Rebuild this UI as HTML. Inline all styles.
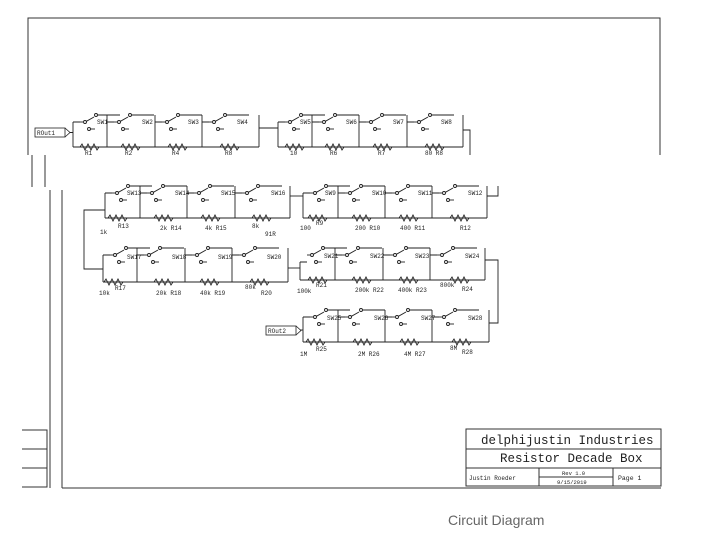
<!DOCTYPE html>
<html><head><meta charset="utf-8"><style>
html,body{margin:0;padding:0;background:#fff;width:702px;height:539px;overflow:hidden}
svg{display:block}
text{font-family:"Liberation Mono",monospace;fill:#222}
</style></head><body>
<svg width="702" height="539" viewBox="0 0 702 539" xmlns="http://www.w3.org/2000/svg">
<defs>
<g id="sw" fill="none" stroke="#222" stroke-width="0.9">
<path d="M0 0H3"/><circle cx="5" cy="0" r="1.5"/><path d="M6.4 -0.7L14 -5"/>
<circle cx="16" cy="-7" r="1.5"/><path d="M17.5 -7H40"/>
<circle cx="9" cy="7" r="1.5"/><path d="M10.5 7H15"/>
</g>
<g id="res" fill="none" stroke="#222" stroke-width="0.9">
<path d="M-10 0L-8 -3L-5 3L-2 -3L1 3L4 -3L7 3L9 0"/>
</g>
</defs>
<g stroke="#333" stroke-width="1" fill="none">
<path d="M28 155V18H660V155"/>
</g>
<!-- Row 1 -->
<g stroke="#222" stroke-width="0.9" fill="none">
<path d="M73 122V147M107 115V147M155 115V147M202 115V147M259 115V147"/>
<path d="M73 122H80M107 122H114M155 122H162M202 122H209"/>
<path d="M73 147H259"/>
<path d="M259 128H278M278 122V147M312 115V147M359 115V147M407 115V147M463 115V147"/>
<path d="M278 122H285M312 122H319M359 122H366M407 122H414M278 147H463"/>
<path d="M463 130H470V155"/>
</g>
<g clip-path="none">
<use href="#sw" x="80" y="122"/><use href="#sw" x="114" y="122"/><use href="#sw" x="162" y="122"/><use href="#sw" x="209" y="122"/>
<use href="#sw" x="285" y="122"/><use href="#sw" x="319" y="122"/><use href="#sw" x="366" y="122"/><use href="#sw" x="414" y="122"/>
</g>
<use href="#res" x="90" y="147"/><use href="#res" x="131" y="147"/><use href="#res" x="178" y="147"/><use href="#res" x="230" y="147"/>
<use href="#res" x="295" y="147"/><use href="#res" x="335" y="147"/><use href="#res" x="383" y="147"/><use href="#res" x="435" y="147"/>
<rect x="35" y="128" width="30" height="9" fill="#fff" stroke="#222" stroke-width="0.8"/><path d="M65 128L70 132.5L65 137" fill="none" stroke="#222" stroke-width="0.8"/><path d="M70 132.5H73" stroke="#222"/>
<g font-size="6"><text x="37" y="135">ROut1</text>
<text x="97" y="124">SW1</text><text x="142" y="124">SW2</text><text x="188" y="124">SW3</text><text x="237" y="124">SW4</text>
<text x="300" y="124">SW5</text><text x="346" y="124">SW6</text><text x="393" y="124">SW7</text><text x="441" y="124">SW8</text>
<text x="85" y="155">R1</text><text x="125" y="155">R2</text><text x="172" y="155">R4</text><text x="225" y="155">R8</text>
<text x="290" y="155">10</text><text x="330" y="155">R6</text><text x="378" y="155">R7</text><text x="425" y="155">80 R8</text></g>

<rect x="21" y="155" width="640" height="340" fill="#fff"/>
<g stroke="#333" stroke-width="1" fill="none">
<path d="M32 155V187M45 155V187M50 190V488M62 190V488M62 488H661"/>
<path d="M22 430H47V487H22M22 449H47M22 468H47"/>
<rect x="466" y="429" width="195" height="57"/>
<path d="M466 449H661M466 468H661M539 468V486M613 468V486M539 477H613"/>
</g>
<text x="481" y="444" font-size="12.5">delphijustin Industries</text>
<text x="500" y="462" font-size="12.5">Resistor Decade Box</text>
<text x="469" y="480" font-size="6">Justin Roeder</text>
<text x="562" y="475" font-size="5.5">Rev 1.0</text>
<text x="557" y="484" font-size="5.5">9/15/2019</text>
<text x="618" y="480" font-size="6.5">Page 1</text>
<text x="448" y="525" font-size="14" style="font-family:'Liberation Sans',sans-serif;fill:#666">Circuit Diagram</text>

<!-- Row 2 -->
<g stroke="#222" stroke-width="0.9" fill="none">
<path d="M105 193V218M140 186V218M187 186V218M235 186V218M290 186V218M105 218H290"/>
<path d="M105 193H112M140 193H147M187 193H194M235 193H242"/>
<path d="M290 196H303"/>
<path d="M303 193V218M338 186V218M385 186V218M432 186V218M487 186V218M303 218H487"/>
<path d="M303 193H310M338 193H345M385 193H392M432 193H439"/>
<path d="M487 196H498V186"/>
<path d="M105 210H84V269H103"/>
</g>
<use href="#sw" x="112" y="193"/><use href="#sw" x="147" y="193"/><use href="#sw" x="194" y="193"/><use href="#sw" x="242" y="193"/>
<use href="#sw" x="310" y="193"/><use href="#sw" x="345" y="193"/><use href="#sw" x="392" y="193"/><use href="#sw" x="439" y="193"/>
<use href="#res" x="118" y="218"/><use href="#res" x="164" y="218"/><use href="#res" x="211" y="218"/><use href="#res" x="262" y="218"/>
<use href="#res" x="318" y="218"/><use href="#res" x="362" y="218"/><use href="#res" x="409" y="218"/><use href="#res" x="460" y="218"/>
<g font-size="6"><text x="127" y="195">SW13</text><text x="175" y="195">SW14</text><text x="221" y="195">SW15</text><text x="271" y="195">SW16</text>
<text x="325" y="195">SW9</text><text x="372" y="195">SW10</text><text x="418" y="195">SW11</text><text x="468" y="195">SW12</text>
<text x="100" y="234">1k</text><text x="118" y="228">R13</text><text x="160" y="230">2k R14</text><text x="205" y="230">4k R15</text><text x="252" y="228">8k</text><text x="265" y="236">91R</text>
<text x="300" y="230">100</text><text x="316" y="225">R9</text><text x="355" y="230">200 R10</text><text x="400" y="230">400 R11</text><text x="460" y="230">R12</text></g>

<!-- Row 3 -->
<g stroke="#222" stroke-width="0.9" fill="none">
<path d="M103 255V282M137 248V282M185 248V282M232 248V282M288 248V282M103 282H288"/>
<path d="M103 255H110M137 255H144M185 255H192M232 255H239"/>
<path d="M288 268H300"/>
<path d="M300 262V280M335 248V280M383 248V280M430 248V280M485 248V280M300 280H485"/>
<path d="M300 262H307M335 255H342M383 255H390M430 255H437"/>
<path d="M485 260H498V323H489"/>
</g>
<use href="#sw" x="110" y="255"/><use href="#sw" x="144" y="255"/><use href="#sw" x="192" y="255"/><use href="#sw" x="239" y="255"/>
<use href="#sw" x="307" y="255"/><use href="#sw" x="342" y="255"/><use href="#sw" x="390" y="255"/><use href="#sw" x="437" y="255"/>
<use href="#res" x="114" y="282"/><use href="#res" x="164" y="282"/><use href="#res" x="210" y="282"/><use href="#res" x="260" y="282"/>
<use href="#res" x="318" y="280"/><use href="#res" x="362" y="280"/><use href="#res" x="409" y="280"/><use href="#res" x="460" y="280"/>
<g font-size="6"><text x="127" y="259">SW17</text><text x="172" y="259">SW18</text><text x="218" y="259">SW19</text><text x="267" y="259">SW20</text>
<text x="324" y="258">SW21</text><text x="370" y="258">SW22</text><text x="415" y="258">SW23</text><text x="465" y="258">SW24</text>
<text x="99" y="295">10k</text><text x="115" y="290">R17</text><text x="156" y="295">20k R18</text><text x="200" y="295">40k R19</text><text x="245" y="289">80k</text><text x="261" y="295">R20</text>
<text x="297" y="293">100k</text><text x="316" y="287">R21</text><text x="355" y="292">200k R22</text><text x="398" y="292">400k R23</text><text x="440" y="287">800k</text><text x="462" y="291">R24</text></g>

<!-- Row 4 -->
<g stroke="#222" stroke-width="0.9" fill="none">
<path d="M303 317V342M338 310V342M385 310V342M432 310V342M489 310V342M303 342H489"/>
<path d="M303 317H310M338 317H345M385 317H392M432 317H439"/>
<path d="M300 330H303"/>
</g>
<use href="#sw" x="310" y="317"/><use href="#sw" x="345" y="317"/><use href="#sw" x="392" y="317"/><use href="#sw" x="439" y="317"/>
<use href="#res" x="316" y="342"/><use href="#res" x="363" y="342"/><use href="#res" x="410" y="342"/><use href="#res" x="462" y="342"/>
<rect x="266" y="326" width="30" height="9" fill="#fff" stroke="#222" stroke-width="0.8"/><path d="M296 326L301 330.5L296 335" fill="none" stroke="#222" stroke-width="0.8"/>
<g font-size="6"><text x="268" y="333">ROut2</text>
<text x="327" y="320">SW25</text><text x="374" y="320">SW26</text><text x="421" y="320">SW27</text><text x="468" y="320">SW28</text>
<text x="300" y="356">1M</text><text x="316" y="351">R25</text><text x="358" y="356">2M R26</text><text x="404" y="356">4M R27</text><text x="450" y="350">8M</text><text x="462" y="354">R28</text></g>
</svg>
</body></html>
